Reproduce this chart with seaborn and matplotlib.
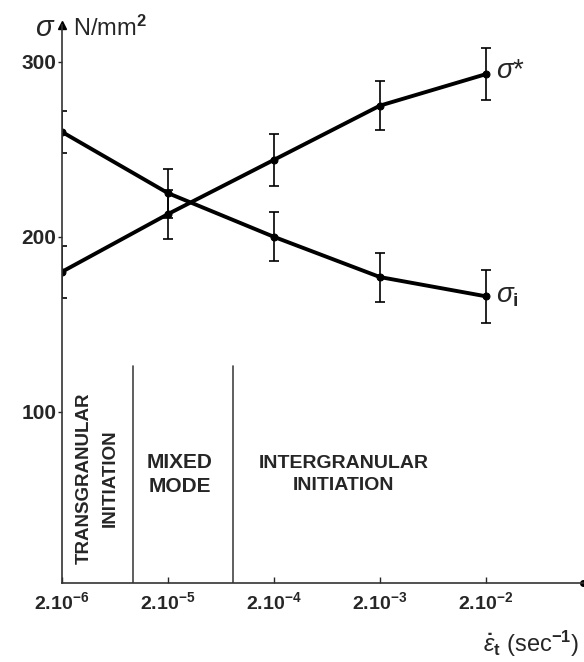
import numpy as np
import pandas as pd
import matplotlib
matplotlib.use("Agg")
import matplotlib.pyplot as plt
import seaborn as sns

# ---- data ----
strain_rate = [2e-6, 2e-5, 2e-4, 2e-3, 2e-2]
tick_labels = ["2.10$^{-6}$", "2.10$^{-5}$", "2.10$^{-4}$", "2.10$^{-3}$", "2.10$^{-2}$"]
sigma_star = [180, 213, 244, 275, 293]
sigma_star_err = [15, 14, 15, 14, 15]
sigma_i = [260, 225, 200, 177, 166]
sigma_i_err = [12, 14, 14, 14, 15]
region_bounds = [9.4e-6, 8.2e-5]
y_ticks = [100, 200, 300]

sns.set_style("ticks")
plt.rcParams["font.family"] = ["Liberation Sans", "DejaVu Sans"]
plt.rcParams["mathtext.fontset"] = "custom"
plt.rcParams["mathtext.rm"] = "Liberation Sans:bold"
plt.rcParams["mathtext.it"] = "Liberation Sans:italic"
plt.rcParams["mathtext.bf"] = "Liberation Sans:bold"

fig = plt.figure(figsize=(5.84, 6.62), dpi=100)
ax = fig.add_axes([0.106, 0.119, 0.892, 0.843])

df = pd.DataFrame({
    "rate": strain_rate * 2,
    "sigma": sigma_star + sigma_i,
    "curve": ["star"] * 5 + ["i"] * 5,
})
sns.lineplot(data=df, x="rate", y="sigma", units="curve", estimator=None,
             color="black", lw=2.8, marker="o", markersize=5,
             markeredgecolor="black", ax=ax, legend=False)
ax.errorbar(strain_rate, sigma_star, yerr=sigma_star_err, fmt="none",
            ecolor="black", elinewidth=1.2, capsize=3.5, capthick=1.2)
ax.errorbar(strain_rate, sigma_i, yerr=sigma_i_err, fmt="none",
            ecolor="black", elinewidth=1.2, capsize=3.5, capthick=1.2)

ax.set_xscale("log")
ax.set_xlim(2e-6, 0.164)
ax.set_ylim(2, 321)
ax.set_xticks(strain_rate)
ax.set_xticklabels(tick_labels, fontsize=14, fontweight="bold")
ax.xaxis.set_minor_locator(matplotlib.ticker.NullLocator())
ax.set_yticks(y_ticks)
ax.set_yticklabels([str(v) for v in y_ticks], fontsize=15, fontweight="bold")
ax.tick_params(axis="x", direction="in", length=4, width=1, pad=6)
ax.tick_params(axis="y", direction="out", length=3, width=1, pad=1)
ax.set_xlabel("")
ax.set_ylabel("")
for s in ["top", "right"]:
    ax.spines[s].set_visible(False)
for s in ["left", "bottom"]:
    ax.spines[s].set_linewidth(1.2)
    ax.spines[s].set_color("#333333")

# axis arrow / end dot
ax.plot(0, 1, marker="^", color="black", markersize=6, transform=ax.transAxes, clip_on=False)
ax.plot(1, 0, marker="o", color="black", markersize=4, transform=ax.transAxes, clip_on=False)

# region boundaries
for xb in region_bounds:
    ax.plot([xb, xb], [0.5, 126], color="#444444", lw=1.2)

ax.text(3.25e-6, 62, "TRANSGRANULAR", rotation=90, ha="center", va="center",
        fontsize=13.5, fontweight="bold")
ax.text(5.7e-6, 62, "INITIATION", rotation=90, ha="center", va="center",
        fontsize=13.5, fontweight="bold")
ax.text(2.6e-5, 64, "MIXED\nMODE", ha="center", va="center",
        fontsize=15, fontweight="bold", linespacing=1.35)
ax.text(9.1e-4, 64, "INTERGRANULAR\nINITIATION", ha="center", va="center",
        fontsize=14, fontweight="bold", linespacing=1.35)

# curve labels
ax.text(2.5e-2, sigma_star[-1] + 2, r"$\sigma$*", ha="left", va="center", fontsize=20)
ax.text(2.5e-2, sigma_i[-1], r"$\sigma_\mathrm{i}$", ha="left", va="center", fontsize=20)

# axis titles
fig.text(0.078, 0.957, r"$\sigma$", ha="center", va="center", fontsize=21)
fig.text(0.125, 0.957, "N/mm$^{2}$", ha="left", va="center", fontsize=17)
fig.text(0.91, 0.028, r"$\dot{\varepsilon}_\mathrm{t}$ (sec$^{-1}$)", ha="center",
         va="center", fontsize=17)

fig.savefig("out.png", dpi=100)
